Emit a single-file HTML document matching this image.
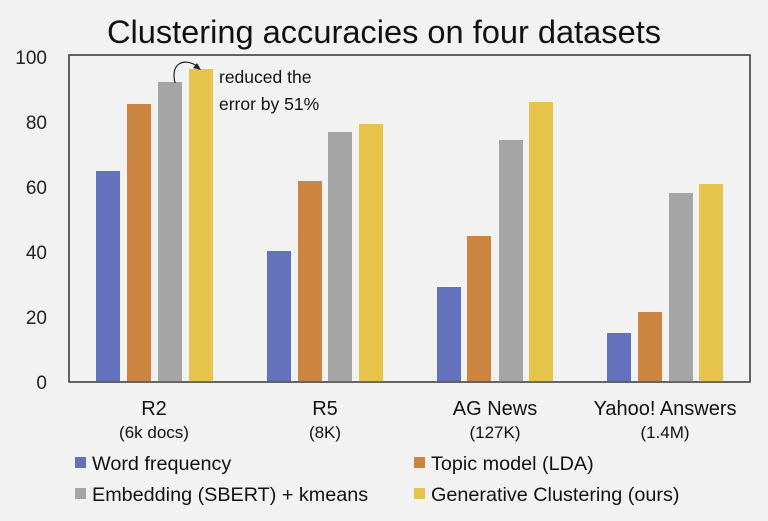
<!DOCTYPE html>
<html><head><meta charset="utf-8"><style>
body{margin:0;background:#f2f2f2;}
svg{display:block;font-family:"Liberation Sans",sans-serif;}
</style></head><body>
<svg width="768" height="521" viewBox="0 0 768 521">
<rect width="768" height="521" fill="#f2f2f2"/>
<text x="384" y="43" text-anchor="middle" font-size="32.6" fill="#111">Clustering accuracies on four datasets</text>
<g font-size="19" fill="#222" text-anchor="end">
<text x="47" y="64">100</text><text x="47" y="129">80</text><text x="47" y="194">60</text>
<text x="47" y="259">40</text><text x="47" y="324">20</text><text x="47" y="389">0</text>
</g>
<rect x="69" y="55" width="681" height="327" fill="none" stroke="#333" stroke-width="1.5"/>
<g>
<rect x="96" y="171" width="24" height="211" fill="#6272bd"/>
<rect x="127" y="104" width="24" height="278" fill="#cb8540"/>
<rect x="158" y="82" width="24" height="300" fill="#a5a5a5"/>
<rect x="189" y="69" width="24" height="313" fill="#e6c34a"/>
<rect x="267" y="251" width="24" height="131" fill="#6272bd"/>
<rect x="298" y="181" width="24" height="201" fill="#cb8540"/>
<rect x="328" y="132" width="24" height="250" fill="#a5a5a5"/>
<rect x="359" y="124" width="24" height="258" fill="#e6c34a"/>
<rect x="437" y="287" width="24" height="95" fill="#6272bd"/>
<rect x="467" y="236" width="24" height="146" fill="#cb8540"/>
<rect x="499" y="140" width="24" height="242" fill="#a5a5a5"/>
<rect x="529" y="102" width="24" height="280" fill="#e6c34a"/>
<rect x="607" y="333" width="24" height="49" fill="#6272bd"/>
<rect x="638" y="312" width="24" height="70" fill="#cb8540"/>
<rect x="669" y="193" width="24" height="189" fill="#a5a5a5"/>
<rect x="699" y="184" width="24" height="198" fill="#e6c34a"/>
</g>
<line x1="69" y1="382" x2="750" y2="382" stroke="#555" stroke-width="1.5"/>
<path d="M175 83 C170 62,185 58,197 66" fill="none" stroke="#222" stroke-width="1.2"/>
<path d="M201 70 L193 68 L197 63 Z" fill="#222"/>
<text x="219" y="83" font-size="17.5" fill="#111">reduced the</text>
<text x="219" y="110" font-size="17.5" fill="#111">error by 51%</text>
<g font-size="20" fill="#111" text-anchor="middle">
<text x="154" y="415">R2</text><text x="325" y="415">R5</text>
<text x="495" y="415">AG News</text><text x="665" y="415">Yahoo! Answers</text>
</g>
<g font-size="17" fill="#111" text-anchor="middle">
<text x="154" y="438">(6k docs)</text><text x="325" y="438">(8K)</text>
<text x="495" y="438">(127K)</text><text x="665" y="438">(1.4M)</text>
</g>
<g font-size="19.8" fill="#111">
<rect x="75" y="457" width="11" height="11" fill="#6272bd"/><text x="92" y="470">Word frequency</text>
<rect x="414" y="457" width="11" height="11" fill="#cb8540"/><text x="431" y="470">Topic model (LDA)</text>
<rect x="75" y="488" width="11" height="11" fill="#a5a5a5"/><text x="92" y="501">Embedding (SBERT) + kmeans</text>
<rect x="414" y="488" width="11" height="11" fill="#e6c34a"/><text x="431" y="501">Generative Clustering (ours)</text>
</g>
</svg>
</body></html>
